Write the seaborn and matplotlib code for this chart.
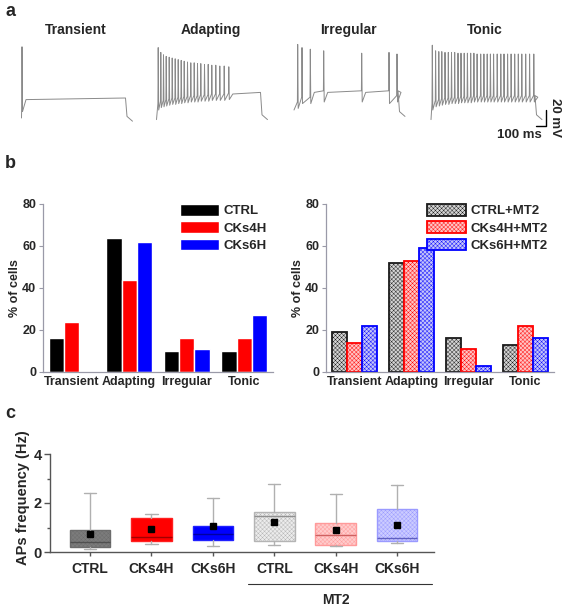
import numpy as np
import pandas as pd
import matplotlib
matplotlib.use("Agg")
import matplotlib.pyplot as plt
import matplotlib.transforms as mtransforms
from matplotlib.ticker import MultipleLocator
import seaborn as sns

# ---- data ----
# panel a: firing patterns (times in ms after step onset, voltages in mV)
trace_names = ["Transient", "Adapting", "Irregular", "Tonic"]
trace_onsets = [215, 1565, 2940, 4310]
step_ms = 1040

trans_spk = [5]
trans_peak = [19]
trans_trough = [-62]

adapt_spk = [17, 43, 70, 97, 127, 157, 187, 217, 247, 277, 310, 343, 377, 410,
             443, 480, 517, 553, 593, 633, 677, 723]
adapt_peak = [18, 12, 9, 7, 6, 5, 4, 3, 2, 1, 0, -1, -1, -2, -2, -3, -3, -4,
              -4, -5, -5, -6]
adapt_trough = [-60, -57, -56, -55, -54, -53, -53, -52, -52, -51, -51, -50,
                -50, -50, -49, -49, -49, -48, -48, -48, -48, -47]

irr_spk = [37, 80, 163, 297, 677, 950, 1030]
irr_peak = [22, 18, 16, 14, 11, 12, 10]
irr_trough = [-58, -52, -52, -50, -50, -52, -50]

tonic_spk = [13, 46, 78, 108, 140, 173, 205, 237, 270, 300, 332, 364, 397, 429,
             461, 497, 529, 562, 594, 626, 662, 698, 730, 766, 801, 837, 873,
             908, 947, 986, 1028]
tonic_peak = [21, 14, 13, 13, 12, 12, 12, 12, 11, 11, 11, 11, 11, 11, 10, 10,
              10, 10, 10, 10, 10, 10, 10, 10, 10, 10, 10, 10, 10, 10, 10]
tonic_trough = [-60, -56, -55, -54, -53, -53, -52, -52, -52, -51, -51, -51, -51,
                -50, -50, -50, -50, -50, -50, -50, -50, -50, -50, -50, -50, -50,
                -50, -50, -50, -50, -50]

start_v = [-70, -72, -60, -72]
plateau_v = [-47, -40, -38, -44]
end_v = [-74, -72, -68, -72]

# panel b: % of cells
types = ["Transient", "Adapting", "Irregular", "Tonic"]
groups = ["CTRL", "CKs4H", "CKs6H"]
ctrl = [16, 64, 10, 10]
cks4h = [24, 44, 16, 16]
cks6h = [0, 62, 11, 27]
groups_mt2 = ["CTRL+MT2", "CKs4H+MT2", "CKs6H+MT2"]
ctrl_mt2 = [19, 52, 16, 13]
cks4h_mt2 = [14, 53, 11, 22]
cks6h_mt2 = [22, 59, 3, 16]

# panel c: AP frequency box summaries (Hz)
c_labels = ["CTRL", "CKs4H", "CKs6H", "CTRL", "CKs4H", "CKs6H"]
c_whishi = [2.41, 1.54, 2.20, 2.78, 2.37, 2.72]
c_q3 = [0.88, 1.37, 1.07, 1.65, 1.17, 1.74]
c_med = [0.41, 0.63, 0.72, 1.46, 0.69, 0.58]
c_q1 = [0.19, 0.46, 0.49, 0.45, 0.30, 0.44]
c_whislo = [0.12, 0.33, 0.23, 0.27, 0.24, 0.37]
c_mean = [0.73, 0.93, 1.05, 1.24, 0.90, 1.09]

# ---- style ----
sns.set_style("ticks")
plt.rcParams["font.family"] = ["Liberation Sans", "DejaVu Sans"]
plt.rcParams["font.weight"] = "bold"
plt.rcParams["hatch.linewidth"] = 0.3

W, H = 567, 606
fig = plt.figure(figsize=(W / 100, H / 100), dpi=100)


def px_rect(x0, y0, x1, y1):
    return [x0 / W, 1 - y1 / H, (x1 - x0) / W, (y1 - y0) / H]


def build_trace(onset, spikes, peaks, troughs, v0, plat, v_end):
    t = [onset]
    v = [v0]
    for i, (s, p, tr) in enumerate(zip(spikes, peaks, troughs)):
        if i > 0 and s - spikes[i - 1] > 90:
            t.append(onset + spikes[i - 1] + 40)
            v.append(plat)
            thr = plat + 2
        else:
            thr = tr + 8
        t += [onset + s - 3, onset + s, onset + s + 5]
        v += [thr, p, tr]
    t += [onset + spikes[-1] + 40, onset + step_ms]
    v += [plat, plat + 2]
    t += [onset + step_ms + 15, onset + step_ms + 70]
    v += [v_end + 6, v_end]
    return np.array(t), np.array(v)


# ---- panel a ----
axa = fig.add_axes(px_rect(0, 38, W, 132))
spike_sets = [(trans_spk, trans_peak, trans_trough),
              (adapt_spk, adapt_peak, adapt_trough),
              (irr_spk, irr_peak, irr_trough),
              (tonic_spk, tonic_peak, tonic_trough)]
for k, (spk, pk, tr) in enumerate(spike_sets):
    t, v = build_trace(trace_onsets[k], spk, pk, tr, start_v[k], plateau_v[k], end_v[k])
    axa.plot(t, v, color="#8a8a8a", lw=0.7)
    axa.text(trace_onsets[k] + step_ms / 2 + 20, 31, trace_names[k],
             ha="center", va="bottom", fontsize=10, fontweight="bold")
axa.set_xlim(0, 5670)
axa.set_ylim(-87.5, 30)
axa.axis("off")
# scale bar 100 ms / 20 mV
axa.plot([5360, 5460, 5460], [-80, -80, -60], color="black", lw=1.0)
axa.text(5420, -84, "100 ms", ha="right", va="top", fontsize=9.5, fontweight="bold")
axa.text(5550, -70, "20 mV", ha="center", va="center", rotation=270,
         fontsize=9.5, fontweight="bold")

# ---- panel b ----
df_b = pd.DataFrame({
    "type": types * 3,
    "group": np.repeat(groups, 4),
    "pct": ctrl + cks4h + cks6h,
})
df_b2 = pd.DataFrame({
    "type": types * 3,
    "group": np.repeat(groups_mt2, 4),
    "pct": ctrl_mt2 + cks4h_mt2 + cks6h_mt2,
})

axb1 = fig.add_axes(px_rect(43, 204, 273, 372))
axb2 = fig.add_axes(px_rect(326, 204, 554, 372))

sns.barplot(data=df_b, x="type", y="pct", hue="group",
            palette=["#000000", "#ff0000", "#0000ff"], saturation=1,
            width=0.8, ax=axb1, legend=False)
sns.barplot(data=df_b2, x="type", y="pct", hue="group",
            palette=["#d4d4d4", "#ffc4c4", "#c4c4fa"], saturation=1,
            width=0.8, ax=axb2, legend=False)

edge_cols = ["#1a1a1a", "#ff0000", "#0000ff"]
for cont, ec in zip(axb2.containers, edge_cols):
    for bar in cont:
        bar.set_edgecolor(ec)
        bar.set_hatch("xxxxxxxx")
        bar.set_linewidth(1.3)

for ax, labs in [(axb1, groups), (axb2, groups_mt2)]:
    ax.set_ylim(0, 80)
    ax.set_xlim(-0.5, 3.5)
    ax.set_yticks([0, 20, 40, 60, 80])
    ax.set_xlabel("")
    ax.set_ylabel("% of cells", fontsize=9, fontweight="bold", labelpad=1)
    for sp in ["top", "right"]:
        ax.spines[sp].set_visible(False)
    for sp in ["left", "bottom"]:
        ax.spines[sp].set_color("#9a9aa8")
        ax.spines[sp].set_linewidth(0.9)
    ax.tick_params(axis="y", length=3, width=0.8, color="#9a9aa8", labelsize=9, pad=2)
    ax.tick_params(axis="x", length=0, labelsize=9, pad=3)
    for lab in ax.get_xticklabels() + ax.get_yticklabels():
        lab.set_fontweight("bold")
    handles = [c.patches[0] for c in ax.containers]
    ax.legend(handles, labs, loc="upper right", bbox_to_anchor=(1.0, 1.04),
              frameon=False, handlelength=2.9, handleheight=1.0,
              labelspacing=0.3, handletextpad=0.35, borderaxespad=0.1,
              prop={"weight": "bold", "size": 9.5})

# ---- panel c ----
axc = fig.add_axes(px_rect(50, 454, 434, 552))
stats = []
for i in range(len(c_labels)):
    stats.append({"med": c_med[i], "q1": c_q1[i], "q3": c_q3[i],
                  "whislo": c_whislo[i], "whishi": c_whishi[i],
                  "mean": c_mean[i], "label": c_labels[i]})
bp = axc.bxp(stats, positions=range(6), widths=0.66, capwidths=0.2,
             patch_artist=True, showmeans=True, showfliers=False,
             whiskerprops={"color": "#b0b0b0", "lw": 1.0},
             capprops={"color": "#b0b0b0", "lw": 1.0},
             meanprops={"marker": "s", "markerfacecolor": "black",
                        "markeredgecolor": "black", "markersize": 5})
box_face = ["#7c7c7c", "#ff0000", "#0000ff", "#ececec", "#ffcccc", "#ccccff"]
box_edge = ["#6c6c6c", "#ff2020", "#2020ff", "#b4b4b4", "#ff9a9a", "#9a9aff"]
box_hatch = ["xxxxxxxx", None, None, "xxxxxxxx", "xxxxxxxx", "xxxxxxxx"]
med_col = ["#505050", "#a00000", "#0000a0", "#909090", "#d06060", "#6060c0"]
for i, box in enumerate(bp["boxes"]):
    box.set_facecolor(box_face[i])
    box.set_edgecolor(box_edge[i])
    box.set_linewidth(1.0)
    if box_hatch[i]:
        box.set_hatch(box_hatch[i])
    bp["medians"][i].set_color(med_col[i])
    bp["medians"][i].set_linewidth(1.0)

axc.set_xlim(-0.65, 5.6)
axc.set_ylim(0, 4)
axc.set_yticks([0, 2, 4])
axc.yaxis.set_minor_locator(MultipleLocator(1))
axc.set_xticks(range(6))
axc.set_xticklabels(c_labels)
for sp in ["top", "right"]:
    axc.spines[sp].set_visible(False)
for sp in ["left", "bottom"]:
    axc.spines[sp].set_color("#555555")
    axc.spines[sp].set_linewidth(1.0)
axc.tick_params(axis="y", which="major", length=4, width=1.0, color="#555555",
                labelsize=10.5, pad=2)
axc.tick_params(axis="y", which="minor", length=2.5, width=1.0, color="#555555")
axc.tick_params(axis="x", length=3, width=1.0, color="#555555", labelsize=10, pad=4)
for lab in axc.get_xticklabels() + axc.get_yticklabels():
    lab.set_fontweight("bold")
axc.set_ylabel("APs frequency (Hz)", fontsize=10.5, fontweight="bold")
axc.yaxis.set_label_coords(-0.052, 0.55)

trans = mtransforms.blended_transform_factory(axc.transData, axc.transAxes)
axc.plot([2.58, 5.56], [-0.33, -0.33], color="#333333", lw=0.8,
         transform=trans, clip_on=False)
axc.text(4.0, -0.42, "MT2", transform=trans, ha="center", va="top",
         fontsize=10, fontweight="bold")

# ---- panel letters ----
fig.text(5 / W, 1 - 12 / H, "a", fontsize=13, fontweight="bold", va="center")
fig.text(5 / W, 1 - 163 / H, "b", fontsize=13, fontweight="bold", va="center")
fig.text(5 / W, 1 - 413 / H, "c", fontsize=13, fontweight="bold", va="center")

fig.savefig("out.png", dpi=100)
